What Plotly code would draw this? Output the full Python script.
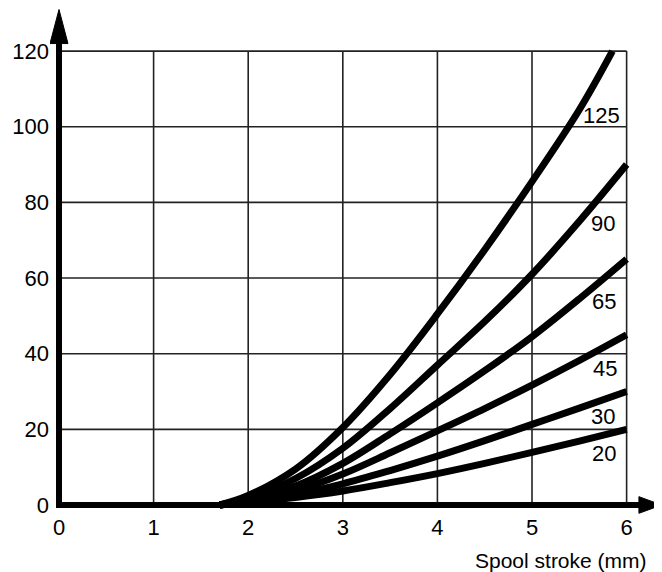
import plotly.graph_objects as go

# ---- data ----
x_common = [1.7, 2.0, 2.5, 3.0, 3.5, 4.0, 4.5, 5.0, 5.5, 6.0]
x_125 = [1.7, 2.0, 2.5, 3.0, 3.5, 4.0, 4.5, 5.0, 5.5, 5.85]
y_125 = [0, 2.5, 9.5, 20.5, 34.5, 50.5, 67.5, 85.5, 104.5, 120]
y_90 = [0, 1.8, 7.0, 15, 25.5, 37, 48.5, 61, 75, 90]
y_65 = [0, 1.5, 5.0, 11, 18.8, 27, 35.5, 44.5, 54.5, 65]
y_45 = [0, 1.2, 3.8, 8.2, 13.8, 19.6, 25.5, 31.7, 38.2, 45]
y_30 = [0, 1.0, 2.8, 5.6, 9.1, 12.9, 17, 21.3, 25.6, 30]
y_20 = [0, 0.7, 2.0, 3.7, 5.9, 8.3, 11, 13.9, 16.9, 20]

series_names = ["125", "90", "65", "45", "30", "20"]
series_x = [x_125, x_common, x_common, x_common, x_common, x_common]
series_y = [y_125, y_90, y_65, y_45, y_30, y_20]
label_x = [5.73, 5.75, 5.76, 5.77, 5.75, 5.76]
label_y = [103, 74.3, 53.7, 36, 23.3, 13.5]

x_ticks = [0, 1, 2, 3, 4, 5, 6]
y_ticks = [0, 20, 40, 60, 80, 100, 120]
x_title = "Spool stroke (mm)"

FONT = "Liberation Sans, Arial, Helvetica, sans-serif"

fig = go.Figure()
for nm, xs, ys in zip(series_names, series_x, series_y):
    fig.add_trace(go.Scatter(x=xs, y=ys, mode="lines", name=nm,
                             line=dict(color="black", width=7, shape="spline", smoothing=1.0),
                             hoverinfo="skip", showlegend=False))

shapes = []
# grid
for xv in x_ticks[1:]:
    shapes.append(dict(type="line", xref="x", yref="y", x0=xv, x1=xv, y0=0, y1=y_ticks[-1],
                       line=dict(color="#222", width=1.6), layer="below"))
for yv in y_ticks[1:]:
    shapes.append(dict(type="line", xref="x", yref="y", x0=0, x1=x_ticks[-1], y0=yv, y1=yv,
                       line=dict(color="#222", width=1.6), layer="below"))
# axes
shapes.append(dict(type="line", xref="x", yref="y", x0=-0.03, x1=6.18, y0=0, y1=0,
                   line=dict(color="black", width=6), layer="above"))
shapes.append(dict(type="line", xref="x", yref="y", x0=0, x1=0, y0=-0.8, y1=123,
                   line=dict(color="black", width=6), layer="above"))
# arrowheads
shapes.append(dict(type="path", xref="x", yref="y",
                   path="M 6.13 -2.2 L 6.37 0 L 6.13 2.2 Z",
                   fillcolor="black", line=dict(color="black", width=1), layer="above"))
shapes.append(dict(type="path", xref="x", yref="y",
                   path="M -0.095 122 L 0 131 L 0.095 122 Z",
                   fillcolor="black", line=dict(color="black", width=1), layer="above"))

annotations = []
for nm, lx, ly in zip(series_names, label_x, label_y):
    annotations.append(dict(x=lx, y=ly, xref="x", yref="y", text=nm, showarrow=False,
                            xanchor="center", yanchor="middle",
                            font=dict(family=FONT, size=22, color="black")))
annotations.append(dict(x=0.978, y=-0.088, xref="paper", yref="paper", text=x_title,
                        showarrow=False, xanchor="right", yanchor="middle",
                        font=dict(family=FONT, size=21, color="black")))

# page body adds an 8px margin; figure is sized to fit the 662x572 window
fig.update_layout(
    width=654, height=564,
    margin=dict(l=42, r=0, t=0, b=56, autoexpand=False),
    paper_bgcolor="white", plot_bgcolor="white",
    shapes=shapes, annotations=annotations,
    font=dict(family=FONT, size=22, color="black"),
    xaxis=dict(range=[-0.0951, 6.374], tickvals=x_ticks, ticktext=[str(v) for v in x_ticks],
               showgrid=False, zeroline=False, showline=False, ticks="", automargin=False,
               ticklabelstandoff=-4,
               tickfont=dict(family=FONT, size=22, color="black")),
    yaxis=dict(range=[-2.91, 131.4], tickvals=y_ticks, ticktext=[str(v) for v in y_ticks],
               showgrid=False, zeroline=False, showline=False, ticks="", automargin=False,
               tickfont=dict(family=FONT, size=22, color="black")),
)

fig.write_html("out.html")
